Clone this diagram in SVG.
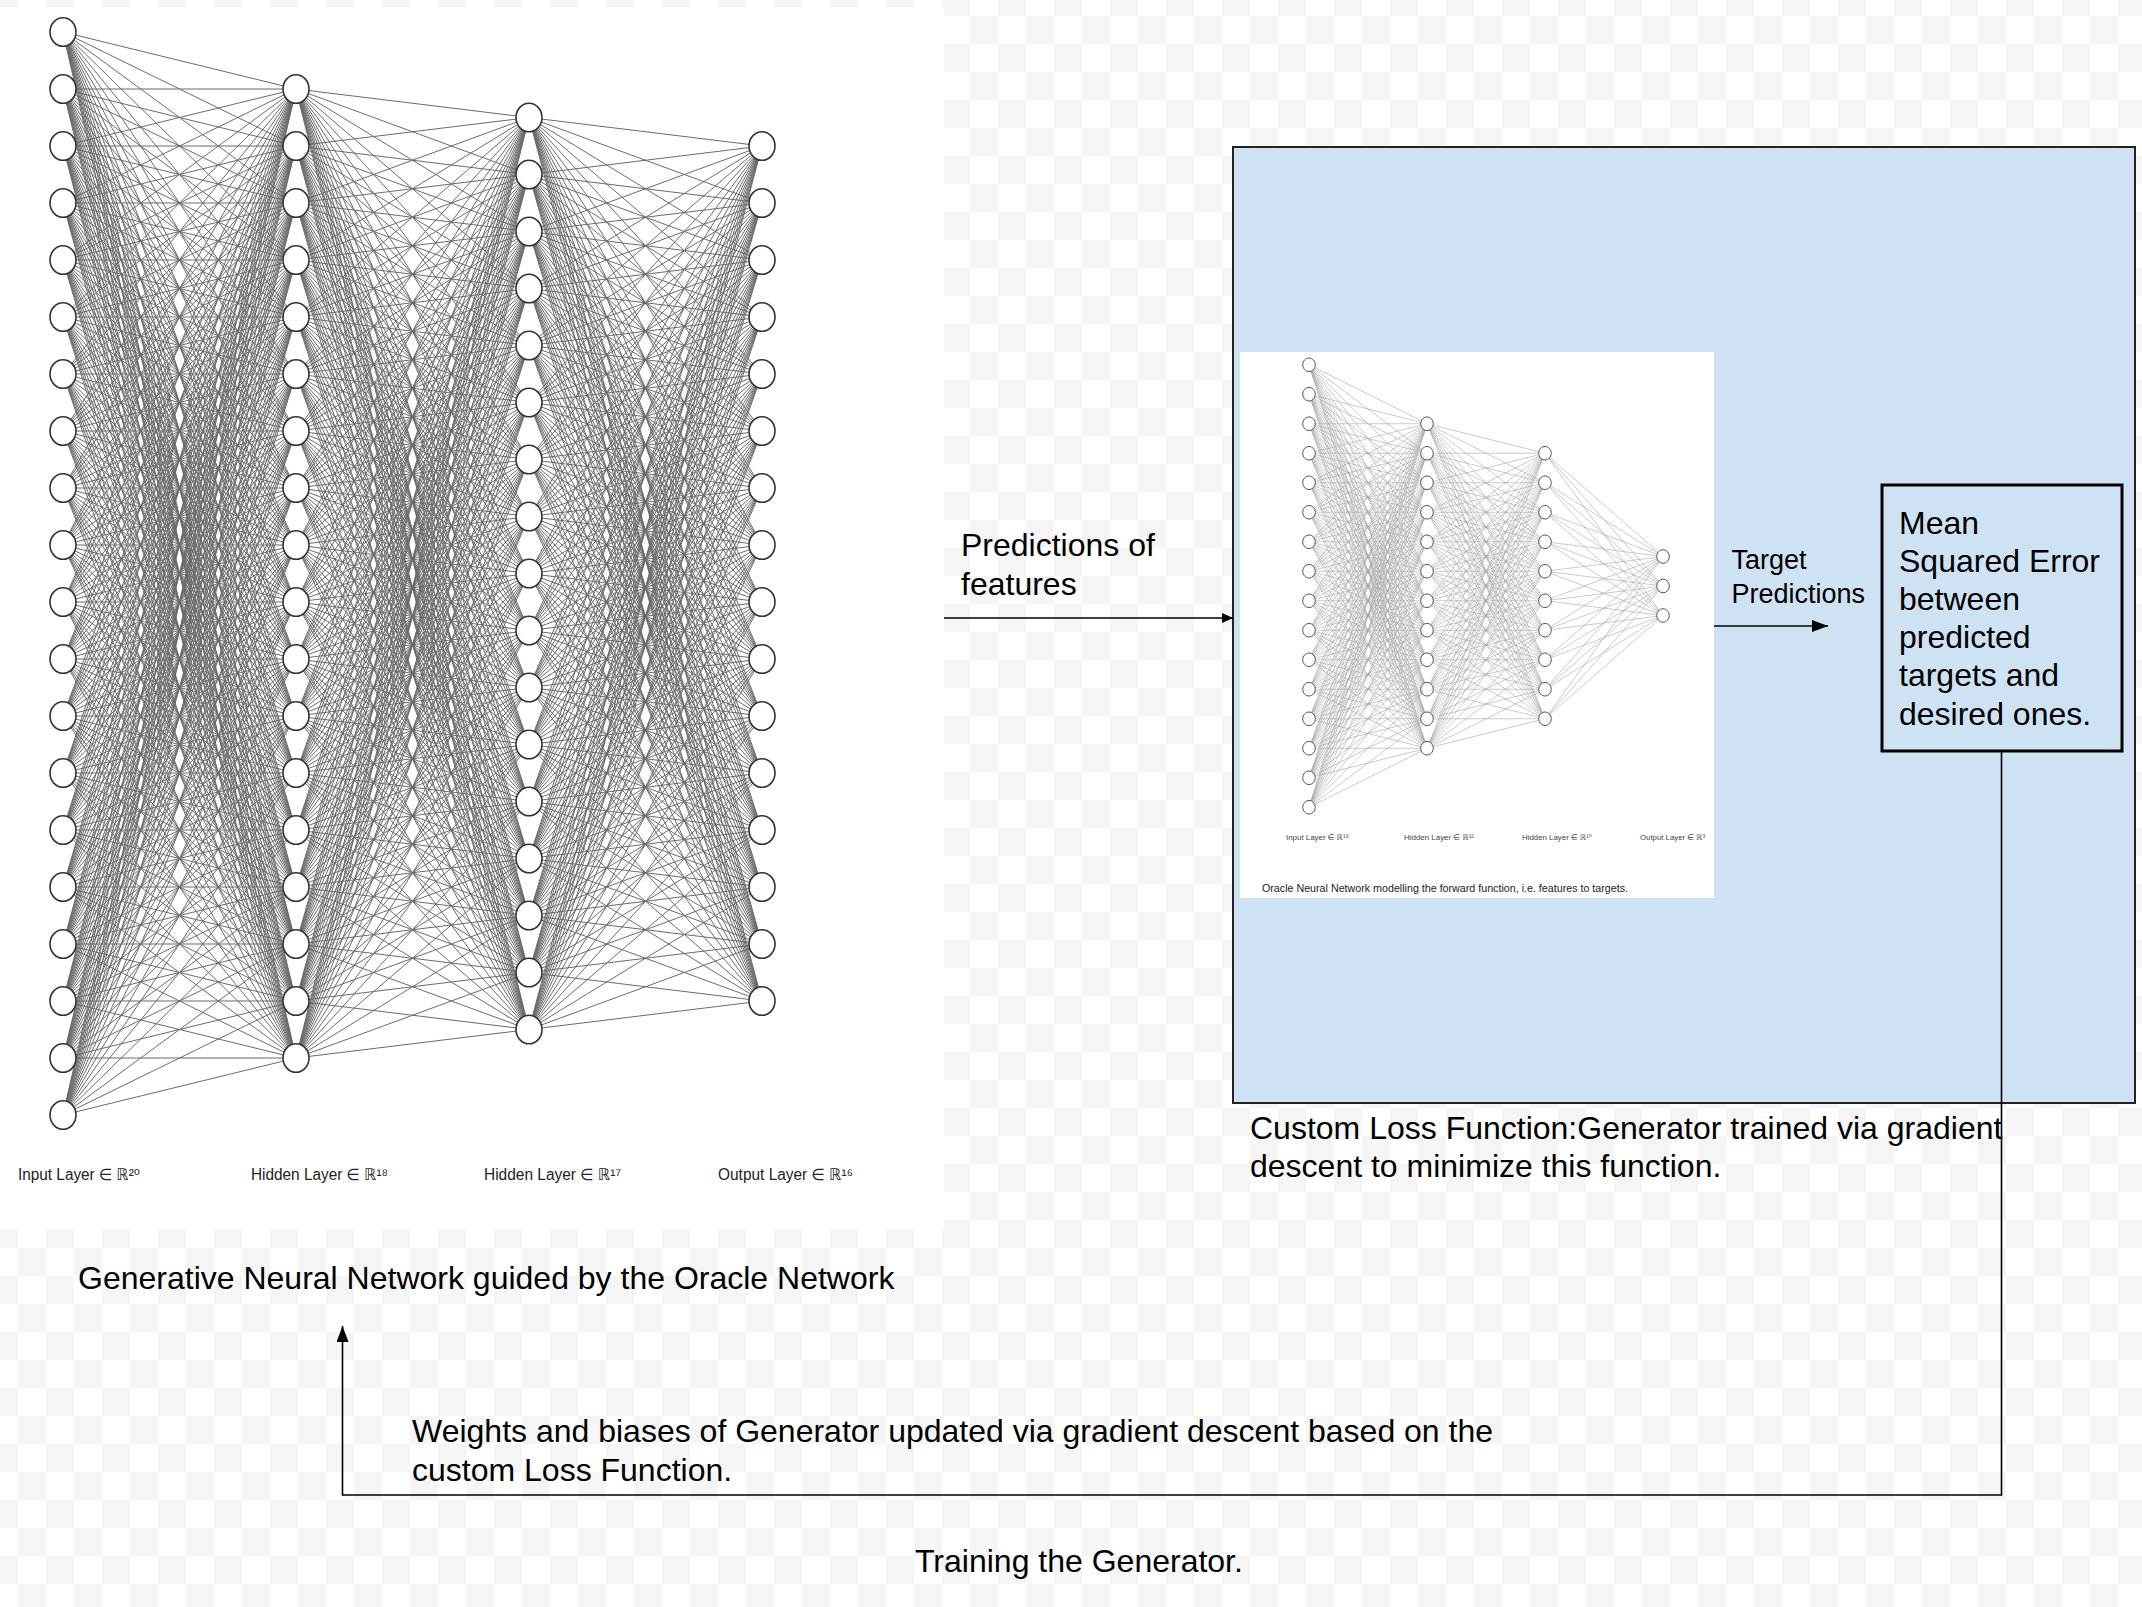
<svg xmlns="http://www.w3.org/2000/svg" xmlns:xlink="http://www.w3.org/1999/xlink" width="2142" height="1607" viewBox="0 0 2142 1607">
<style>
.t{font-family:"Liberation Sans","DejaVu Sans",Arial,sans-serif;fill:#000}
.big{font-size:32px}
.mid{font-size:27px}
.lbl{font-size:16px;fill:#222}
.ilbl{font-size:8px;fill:#444}
.cap{font-size:10.5px;fill:#222}
.ln{fill:none;stroke:#6a6a6a;stroke-width:1;vector-effect:non-scaling-stroke}
.ln2{fill:none;stroke:#a6a6a6;stroke-width:0.6;vector-effect:non-scaling-stroke}
.nb{fill:#fff;stroke:#333;stroke-width:1.6}
.ns{fill:#fff;stroke:#555;stroke-width:1}
.con{fill:none;stroke:#000;stroke-width:1.6}
</style>
<defs>
<pattern id="chk" patternUnits="userSpaceOnUse" x="18" y="16" width="56" height="56">
<rect width="56" height="56" fill="#fff"/>
<rect width="28" height="28" fill="#f5f5f5"/>
<rect x="28" y="28" width="28" height="28" fill="#f5f5f5"/>
</pattern>
<marker id="ah" markerUnits="userSpaceOnUse" markerWidth="16" markerHeight="12" refX="16" refY="6" orient="auto">
<path d="M0 0L16 6L0 12z" fill="#000"/>
</marker>
<marker id="ahs" markerUnits="userSpaceOnUse" markerWidth="11" markerHeight="10" refX="11" refY="5" orient="auto">
<path d="M0 0L11 5L0 10z" fill="#000"/>
</marker>
<ellipse id="nb" class="nb" cx="0" cy="0" rx="13" ry="14.3"/>
<ellipse id="ns" class="ns" cx="0" cy="0" rx="6.3" ry="6.8"/>
<path id="fanA" class="ln" vector-effect="non-scaling-stroke" d="M0 32L233 89M0 89L233 89M0 146L233 89M0 203L233 89M0 260L233 89M0 317L233 89M0 374L233 89M0 431L233 89M0 488L233 89M0 545L233 89M0 602L233 89M0 659L233 89M0 716L233 89M0 773L233 89M0 830L233 89M0 887L233 89M0 944L233 89M0 1001L233 89M0 1058L233 89M0 1115L233 89"/>
<path id="fanB" class="ln" vector-effect="non-scaling-stroke" d="M0 89L233 117.5M0 146L233 117.5M0 203L233 117.5M0 260L233 117.5M0 317L233 117.5M0 374L233 117.5M0 431L233 117.5M0 488L233 117.5M0 545L233 117.5M0 602L233 117.5M0 659L233 117.5M0 716L233 117.5M0 773L233 117.5M0 830L233 117.5M0 887L233 117.5M0 944L233 117.5M0 1001L233 117.5M0 1058L233 117.5"/>
<path id="fanC" class="ln" vector-effect="non-scaling-stroke" d="M0 117.5L233 146M0 174.5L233 146M0 231.5L233 146M0 288.5L233 146M0 345.5L233 146M0 402.5L233 146M0 459.5L233 146M0 516.5L233 146M0 573.5L233 146M0 630.5L233 146M0 687.5L233 146M0 744.5L233 146M0 801.5L233 146M0 858.5L233 146M0 915.5L233 146M0 972.5L233 146M0 1029.5L233 146"/>
<path id="fanD" class="ln2" vector-effect="non-scaling-stroke" d="M0 364.75L118 423.75M0 394.25L118 423.75M0 423.75L118 423.75M0 453.25L118 423.75M0 482.75L118 423.75M0 512.25L118 423.75M0 541.75L118 423.75M0 571.25L118 423.75M0 600.75L118 423.75M0 630.25L118 423.75M0 659.75L118 423.75M0 689.25L118 423.75M0 718.75L118 423.75M0 748.25L118 423.75M0 777.75L118 423.75M0 807.25L118 423.75"/>
<path id="fanE" class="ln2" vector-effect="non-scaling-stroke" d="M0 423.75L118 453.25M0 453.25L118 453.25M0 482.75L118 453.25M0 512.25L118 453.25M0 541.75L118 453.25M0 571.25L118 453.25M0 600.75L118 453.25M0 630.25L118 453.25M0 659.75L118 453.25M0 689.25L118 453.25M0 718.75L118 453.25M0 748.25L118 453.25"/>
<path id="fanF" class="ln2" vector-effect="non-scaling-stroke" d="M0 453.25L118 556.5M0 482.75L118 556.5M0 512.25L118 556.5M0 541.75L118 556.5M0 571.25L118 556.5M0 600.75L118 556.5M0 630.25L118 556.5M0 659.75L118 556.5M0 689.25L118 556.5M0 718.75L118 556.5"/>
</defs>

<rect id="background" x="0" y="0" width="2142" height="1607" fill="url(#chk)"/>

<g id="generator-network">
<rect x="0" y="7" width="944" height="1222" fill="#fff"/>
<g id="gen-edges-1" transform="translate(63 0)">
<use href="#fanA"/>
<use href="#fanA" transform="matrix(1 0.24464 0 1 0 0)"/>
<use href="#fanA" transform="matrix(1 0.48927 0 1 0 0)"/>
<use href="#fanA" transform="matrix(1 0.73391 0 1 0 0)"/>
<use href="#fanA" transform="matrix(1 0.97854 0 1 0 0)"/>
<use href="#fanA" transform="matrix(1 1.22318 0 1 0 0)"/>
<use href="#fanA" transform="matrix(1 1.46781 0 1 0 0)"/>
<use href="#fanA" transform="matrix(1 1.71245 0 1 0 0)"/>
<use href="#fanA" transform="matrix(1 1.95708 0 1 0 0)"/>
<use href="#fanA" transform="matrix(1 2.20172 0 1 0 0)"/>
<use href="#fanA" transform="matrix(1 2.44635 0 1 0 0)"/>
<use href="#fanA" transform="matrix(1 2.69099 0 1 0 0)"/>
<use href="#fanA" transform="matrix(1 2.93562 0 1 0 0)"/>
<use href="#fanA" transform="matrix(1 3.18026 0 1 0 0)"/>
<use href="#fanA" transform="matrix(1 3.42489 0 1 0 0)"/>
<use href="#fanA" transform="matrix(1 3.66953 0 1 0 0)"/>
<use href="#fanA" transform="matrix(1 3.91416 0 1 0 0)"/>
<use href="#fanA" transform="matrix(1 4.15880 0 1 0 0)"/>
</g>
<g id="gen-edges-2" transform="translate(296 0)">
<use href="#fanB"/>
<use href="#fanB" transform="matrix(1 0.24464 0 1 0 0)"/>
<use href="#fanB" transform="matrix(1 0.48927 0 1 0 0)"/>
<use href="#fanB" transform="matrix(1 0.73391 0 1 0 0)"/>
<use href="#fanB" transform="matrix(1 0.97854 0 1 0 0)"/>
<use href="#fanB" transform="matrix(1 1.22318 0 1 0 0)"/>
<use href="#fanB" transform="matrix(1 1.46781 0 1 0 0)"/>
<use href="#fanB" transform="matrix(1 1.71245 0 1 0 0)"/>
<use href="#fanB" transform="matrix(1 1.95708 0 1 0 0)"/>
<use href="#fanB" transform="matrix(1 2.20172 0 1 0 0)"/>
<use href="#fanB" transform="matrix(1 2.44635 0 1 0 0)"/>
<use href="#fanB" transform="matrix(1 2.69099 0 1 0 0)"/>
<use href="#fanB" transform="matrix(1 2.93562 0 1 0 0)"/>
<use href="#fanB" transform="matrix(1 3.18026 0 1 0 0)"/>
<use href="#fanB" transform="matrix(1 3.42489 0 1 0 0)"/>
<use href="#fanB" transform="matrix(1 3.66953 0 1 0 0)"/>
<use href="#fanB" transform="matrix(1 3.91416 0 1 0 0)"/>
</g>
<g id="gen-edges-3" transform="translate(529 0)">
<use href="#fanC"/>
<use href="#fanC" transform="matrix(1 0.24464 0 1 0 0)"/>
<use href="#fanC" transform="matrix(1 0.48927 0 1 0 0)"/>
<use href="#fanC" transform="matrix(1 0.73391 0 1 0 0)"/>
<use href="#fanC" transform="matrix(1 0.97854 0 1 0 0)"/>
<use href="#fanC" transform="matrix(1 1.22318 0 1 0 0)"/>
<use href="#fanC" transform="matrix(1 1.46781 0 1 0 0)"/>
<use href="#fanC" transform="matrix(1 1.71245 0 1 0 0)"/>
<use href="#fanC" transform="matrix(1 1.95708 0 1 0 0)"/>
<use href="#fanC" transform="matrix(1 2.20172 0 1 0 0)"/>
<use href="#fanC" transform="matrix(1 2.44635 0 1 0 0)"/>
<use href="#fanC" transform="matrix(1 2.69099 0 1 0 0)"/>
<use href="#fanC" transform="matrix(1 2.93562 0 1 0 0)"/>
<use href="#fanC" transform="matrix(1 3.18026 0 1 0 0)"/>
<use href="#fanC" transform="matrix(1 3.42489 0 1 0 0)"/>
<use href="#fanC" transform="matrix(1 3.66953 0 1 0 0)"/>
</g>
<g id="gen-input-layer">
<use href="#nb" x="63" y="32"/><use href="#nb" x="63" y="89"/><use href="#nb" x="63" y="146"/><use href="#nb" x="63" y="203"/><use href="#nb" x="63" y="260"/><use href="#nb" x="63" y="317"/><use href="#nb" x="63" y="374"/><use href="#nb" x="63" y="431"/><use href="#nb" x="63" y="488"/><use href="#nb" x="63" y="545"/><use href="#nb" x="63" y="602"/><use href="#nb" x="63" y="659"/><use href="#nb" x="63" y="716"/><use href="#nb" x="63" y="773"/><use href="#nb" x="63" y="830"/><use href="#nb" x="63" y="887"/><use href="#nb" x="63" y="944"/><use href="#nb" x="63" y="1001"/><use href="#nb" x="63" y="1058"/><use href="#nb" x="63" y="1115"/>
</g>
<g id="gen-hidden-layer-1">
<use href="#nb" x="296" y="89"/><use href="#nb" x="296" y="146"/><use href="#nb" x="296" y="203"/><use href="#nb" x="296" y="260"/><use href="#nb" x="296" y="317"/><use href="#nb" x="296" y="374"/><use href="#nb" x="296" y="431"/><use href="#nb" x="296" y="488"/><use href="#nb" x="296" y="545"/><use href="#nb" x="296" y="602"/><use href="#nb" x="296" y="659"/><use href="#nb" x="296" y="716"/><use href="#nb" x="296" y="773"/><use href="#nb" x="296" y="830"/><use href="#nb" x="296" y="887"/><use href="#nb" x="296" y="944"/><use href="#nb" x="296" y="1001"/><use href="#nb" x="296" y="1058"/>
</g>
<g id="gen-hidden-layer-2">
<use href="#nb" x="529" y="117.5"/><use href="#nb" x="529" y="174.5"/><use href="#nb" x="529" y="231.5"/><use href="#nb" x="529" y="288.5"/><use href="#nb" x="529" y="345.5"/><use href="#nb" x="529" y="402.5"/><use href="#nb" x="529" y="459.5"/><use href="#nb" x="529" y="516.5"/><use href="#nb" x="529" y="573.5"/><use href="#nb" x="529" y="630.5"/><use href="#nb" x="529" y="687.5"/><use href="#nb" x="529" y="744.5"/><use href="#nb" x="529" y="801.5"/><use href="#nb" x="529" y="858.5"/><use href="#nb" x="529" y="915.5"/><use href="#nb" x="529" y="972.5"/><use href="#nb" x="529" y="1029.5"/>
</g>
<g id="gen-output-layer">
<use href="#nb" x="762" y="146"/><use href="#nb" x="762" y="203"/><use href="#nb" x="762" y="260"/><use href="#nb" x="762" y="317"/><use href="#nb" x="762" y="374"/><use href="#nb" x="762" y="431"/><use href="#nb" x="762" y="488"/><use href="#nb" x="762" y="545"/><use href="#nb" x="762" y="602"/><use href="#nb" x="762" y="659"/><use href="#nb" x="762" y="716"/><use href="#nb" x="762" y="773"/><use href="#nb" x="762" y="830"/><use href="#nb" x="762" y="887"/><use href="#nb" x="762" y="944"/><use href="#nb" x="762" y="1001"/>
</g>
<g id="gen-labels">
<text class="t lbl" x="18" y="1180" textLength="122" lengthAdjust="spacingAndGlyphs">Input Layer ∈ ℝ²⁰</text>
<text class="t lbl" x="251" y="1180" textLength="137" lengthAdjust="spacingAndGlyphs">Hidden Layer ∈ ℝ¹⁸</text>
<text class="t lbl" x="484" y="1180" textLength="137" lengthAdjust="spacingAndGlyphs">Hidden Layer ∈ ℝ¹⁷</text>
<text class="t lbl" x="718" y="1180" textLength="135" lengthAdjust="spacingAndGlyphs">Output Layer ∈ ℝ¹⁶</text>
</g>
</g>

<g id="loss-function-box">
<rect x="1233" y="147" width="902" height="956" fill="#cfe2f3" stroke="#222" stroke-width="2"/>
</g>

<g id="oracle-network">
<rect x="1240" y="352" width="474" height="546" fill="#fff"/>
<g transform="translate(1309 0)">
<use href="#fanD"/>
<use href="#fanD" transform="matrix(1 0.25 0 1 0 0)"/>
<use href="#fanD" transform="matrix(1 0.5 0 1 0 0)"/>
<use href="#fanD" transform="matrix(1 0.75 0 1 0 0)"/>
<use href="#fanD" transform="matrix(1 1 0 1 0 0)"/>
<use href="#fanD" transform="matrix(1 1.25 0 1 0 0)"/>
<use href="#fanD" transform="matrix(1 1.5 0 1 0 0)"/>
<use href="#fanD" transform="matrix(1 1.75 0 1 0 0)"/>
<use href="#fanD" transform="matrix(1 2 0 1 0 0)"/>
<use href="#fanD" transform="matrix(1 2.25 0 1 0 0)"/>
<use href="#fanD" transform="matrix(1 2.5 0 1 0 0)"/>
<use href="#fanD" transform="matrix(1 2.75 0 1 0 0)"/>
</g>
<g transform="translate(1427 0)">
<use href="#fanE"/>
<use href="#fanE" transform="matrix(1 0.25 0 1 0 0)"/>
<use href="#fanE" transform="matrix(1 0.5 0 1 0 0)"/>
<use href="#fanE" transform="matrix(1 0.75 0 1 0 0)"/>
<use href="#fanE" transform="matrix(1 1 0 1 0 0)"/>
<use href="#fanE" transform="matrix(1 1.25 0 1 0 0)"/>
<use href="#fanE" transform="matrix(1 1.5 0 1 0 0)"/>
<use href="#fanE" transform="matrix(1 1.75 0 1 0 0)"/>
<use href="#fanE" transform="matrix(1 2 0 1 0 0)"/>
<use href="#fanE" transform="matrix(1 2.25 0 1 0 0)"/>
</g>
<g transform="translate(1545 0)">
<use href="#fanF"/>
<use href="#fanF" transform="matrix(1 0.25 0 1 0 0)"/>
<use href="#fanF" transform="matrix(1 0.5 0 1 0 0)"/>
</g>
<g id="oracle-input-layer">
<use href="#ns" x="1309" y="364.75"/><use href="#ns" x="1309" y="394.25"/><use href="#ns" x="1309" y="423.75"/><use href="#ns" x="1309" y="453.25"/><use href="#ns" x="1309" y="482.75"/><use href="#ns" x="1309" y="512.25"/><use href="#ns" x="1309" y="541.75"/><use href="#ns" x="1309" y="571.25"/><use href="#ns" x="1309" y="600.75"/><use href="#ns" x="1309" y="630.25"/><use href="#ns" x="1309" y="659.75"/><use href="#ns" x="1309" y="689.25"/><use href="#ns" x="1309" y="718.75"/><use href="#ns" x="1309" y="748.25"/><use href="#ns" x="1309" y="777.75"/><use href="#ns" x="1309" y="807.25"/>
</g>
<g id="oracle-hidden-layer-1">
<use href="#ns" x="1427" y="423.75"/><use href="#ns" x="1427" y="453.25"/><use href="#ns" x="1427" y="482.75"/><use href="#ns" x="1427" y="512.25"/><use href="#ns" x="1427" y="541.75"/><use href="#ns" x="1427" y="571.25"/><use href="#ns" x="1427" y="600.75"/><use href="#ns" x="1427" y="630.25"/><use href="#ns" x="1427" y="659.75"/><use href="#ns" x="1427" y="689.25"/><use href="#ns" x="1427" y="718.75"/><use href="#ns" x="1427" y="748.25"/>
</g>
<g id="oracle-hidden-layer-2">
<use href="#ns" x="1545" y="453.25"/><use href="#ns" x="1545" y="482.75"/><use href="#ns" x="1545" y="512.25"/><use href="#ns" x="1545" y="541.75"/><use href="#ns" x="1545" y="571.25"/><use href="#ns" x="1545" y="600.75"/><use href="#ns" x="1545" y="630.25"/><use href="#ns" x="1545" y="659.75"/><use href="#ns" x="1545" y="689.25"/><use href="#ns" x="1545" y="718.75"/>
</g>
<g id="oracle-output-layer">
<use href="#ns" x="1663" y="556.5"/><use href="#ns" x="1663" y="586"/><use href="#ns" x="1663" y="615.5"/>
</g>
<g id="oracle-labels">
<text class="t ilbl" x="1286" y="840" textLength="63" lengthAdjust="spacingAndGlyphs">Input Layer ∈ ℝ¹⁶</text>
<text class="t ilbl" x="1404" y="840" textLength="70" lengthAdjust="spacingAndGlyphs">Hidden Layer ∈ ℝ¹²</text>
<text class="t ilbl" x="1522" y="840" textLength="70" lengthAdjust="spacingAndGlyphs">Hidden Layer ∈ ℝ¹⁰</text>
<text class="t ilbl" x="1640" y="840" textLength="65" lengthAdjust="spacingAndGlyphs">Output Layer ∈ ℝ³</text>
<text class="t cap" x="1262" y="891.5" textLength="366" lengthAdjust="spacingAndGlyphs">Oracle Neural Network modelling the forward function, i.e. features to targets.</text>
</g>
</g>

<g id="mse-box">
<rect x="1882" y="485" width="240" height="266" fill="#cfe2f3" stroke="#000" stroke-width="3"/>
<text class="t big" x="1899">
<tspan x="1899" y="533.5">Mean</tspan>
<tspan x="1899" y="571.7">Squared Error</tspan>
<tspan x="1899" y="610">between</tspan>
<tspan x="1899" y="648.3">predicted</tspan>
<tspan x="1899" y="686.4">targets and</tspan>
<tspan x="1899" y="724.5">desired ones.</tspan>
</text>
</g>

<g id="label-predictions-of-features">
<text class="t big"><tspan x="961" y="556">Predictions of</tspan><tspan x="961" y="595">features</tspan></text>
</g>
<g id="label-target-predictions">
<text class="t mid"><tspan x="1731.5" y="569">Target</tspan><tspan x="1731.5" y="603">Predictions</tspan></text>
</g>
<g id="label-custom-loss">
<text class="t big"><tspan x="1250" y="1139">Custom Loss Function:Generator trained via gradient</tspan><tspan x="1250" y="1177">descent to minimize this function.</tspan></text>
</g>
<g id="label-generative">
<text class="t big" x="78" y="1289">Generative Neural Network guided by the Oracle Network</text>
</g>
<g id="label-weights">
<text class="t big"><tspan x="412" y="1442">Weights and biases of Generator updated via gradient descent based on the</tspan><tspan x="412" y="1481">custom Loss Function.</tspan></text>
</g>
<g id="label-training">
<text class="t big" x="915" y="1572">Training the Generator.</text>
</g>

<g id="connectors">
<path class="con" d="M944 618L1233 618" marker-end="url(#ahs)"/>
<path class="con" d="M1714 626L1828 626" marker-end="url(#ah)" stroke-width="1.4"/>
<path class="con" d="M2001.5 751L2001.5 1495L342.5 1495L342.5 1326" marker-end="url(#ah)" stroke-width="1.5"/>
</g>
</svg>
